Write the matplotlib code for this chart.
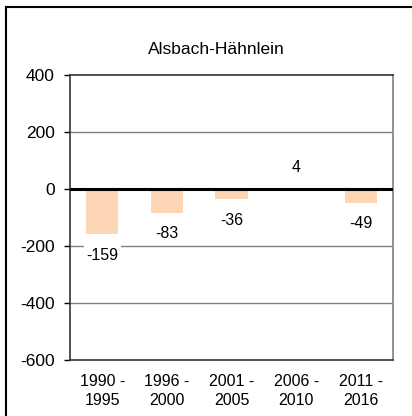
import matplotlib
matplotlib.use('Agg')
import matplotlib.pyplot as plt
from matplotlib.lines import Line2D

# data
periods = ['1990 -\n1995', '1996 -\n2000', '2001 -\n2005', '2006 -\n2010', '2011 -\n2016']
values = [-159, -83, -36, 4, -49]
title = 'Alsbach-Hähnlein'
yticks = [-600, -400, -200, 0, 200, 400]

plt.rcParams['font.family'] = ['Liberation Sans', 'DejaVu Sans']
plt.rcParams['axes.unicode_minus'] = False

fig = plt.figure(figsize=(4.12, 4.16), dpi=100)
ax = fig.add_axes([0.170, 0.1346, 0.784, 0.685])

colors = ['#FCD5B5' if v < 0 else '#77B94C' for v in values]
x = list(range(len(values)))
ax.bar(x, values, width=0.5, color=colors, zorder=2)

ax.set_ylim(-600, 400)
ax.set_xlim(-0.5, len(values) - 0.5)
ax.set_yticks(yticks)
ax.set_yticklabels([str(t) for t in yticks], fontsize=12.5)
ax.set_xticks(x)
ax.set_xticklabels(periods, fontsize=11.5, linespacing=1.35)
ax.tick_params(axis='x', length=0, pad=10)
ax.tick_params(axis='y', length=4, width=1, direction='out', pad=7)

# grid lines
for t in yticks[1:-1]:
    if t == 0:
        continue
    ax.axhline(t, color='#808080', linewidth=1, zorder=1)
ax.axhline(0, color='black', linewidth=2.2, zorder=3)

# value labels
for xi, v in zip(x, values):
    off = 15 if v >= 0 else -15
    ax.annotate(str(v), (xi, v), xytext=(0, off), textcoords='offset points',
                ha='center', va='center', fontsize=11.5, zorder=4,
                bbox=dict(boxstyle='square,pad=0.15', facecolor='white', edgecolor='none'))

for s in ['left', 'top', 'bottom']:
    ax.spines[s].set_color('#333333')
    ax.spines[s].set_linewidth(1.2)
ax.spines['right'].set_color('#808080')
ax.spines['right'].set_linewidth(1.2)

fig.text(0.524, 1 - 49 / 416, title, ha='center', va='center', fontsize=12.5)

# frame around chart area (left and top visible)
fig.add_artist(Line2D([6 / 412, 6 / 412], [0, 1 - 7 / 416], color='black', linewidth=1.5))
fig.add_artist(Line2D([6 / 412, 1], [1 - 7 / 416, 1 - 7 / 416], color='black', linewidth=1.5))

fig.savefig('out.png', dpi=100)
